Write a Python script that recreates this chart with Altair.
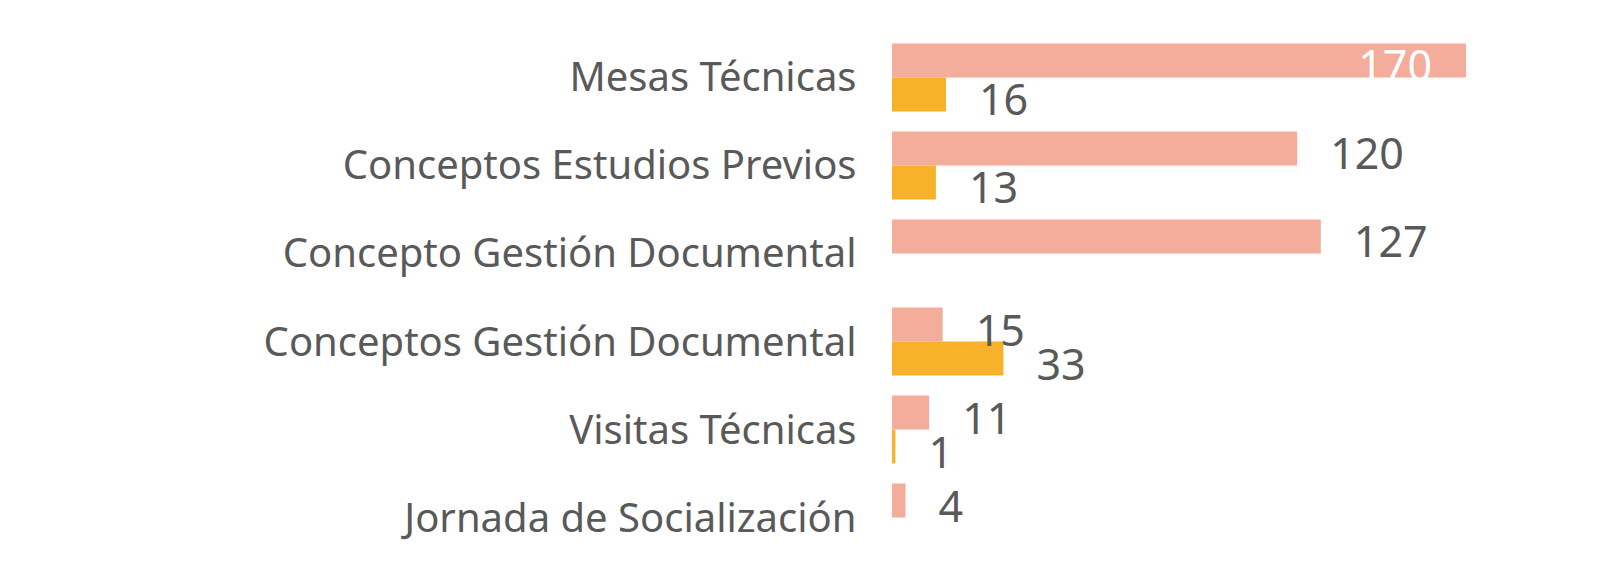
import altair as alt
import pandas as pd

categories = [
    "Mesas Técnicas",
    "Conceptos Estudios Previos",
    "Concepto Gestión Documental",
    "Conceptos Gestión Documental",
    "Visitas Técnicas",
    "Jornada de Socialización",
]
series_names = ["Serie 1", "Serie 2"]
serie1 = [170, 120, 127, 15, 11, 4]
serie2 = [16, 13, None, 33, 1, None]

rows = []
for c, a, b in zip(categories, serie1, serie2):
    if a is not None:
        rows.append({"cat": c, "serie": series_names[0], "value": a})
    if b is not None:
        rows.append({"cat": c, "serie": series_names[1], "value": b})
df = pd.DataFrame(rows)

FONT = "Noto Sans"
colors = ["#F4AC9B", "#F7B229"]

y_enc = alt.Y(
    "cat:N",
    sort=categories,
    scale=alt.Scale(paddingInner=0.2273, paddingOuter=0.1136),
    axis=alt.Axis(
        title=None,
        ticks=False,
        domain=False,
        grid=False,
        labelPadding=36,
        labelOffset=2,
        labelFont=FONT,
        labelFontSize=40,
        labelColor="#595959",
        labelLimit=800,
    ),
)
yoff = alt.YOffset("serie:N", sort=series_names, scale=alt.Scale(paddingInner=0, paddingOuter=0))
x_enc = alt.X("value:Q", scale=alt.Scale(domain=[0, 170], nice=False), axis=None)

base = alt.Chart(df).encode(y=y_enc, yOffset=yoff, x=x_enc)

bars = base.mark_bar(cornerRadius=0).encode(
    color=alt.Color("serie:N", sort=series_names, scale=alt.Scale(domain=series_names, range=colors), legend=None)
)

outside = base.transform_filter("datum.value < 160").mark_text(
    align="left", baseline="middle", dx=33, dy=8, font=FONT, fontSize=43, color="#595959"
).encode(text="value:Q")

inside = base.transform_filter("datum.value >= 160").mark_text(
    align="right", baseline="middle", dx=-34, dy=8, font=FONT, fontSize=43, color="#FFFFFF"
).encode(text="value:Q")

chart = (
    alt.layer(bars, outside, inside)
    .properties(
        width=574,
        height=528,
        background="white",
        autosize=alt.AutoSizeParams(type="none"),
        padding={"left": 884, "top": 25.5, "right": 140, "bottom": 10},
    )
    .configure_view(strokeWidth=0, stroke=None)
)

chart.save("out.html", embed_options={"renderer": "svg", "actions": False})
